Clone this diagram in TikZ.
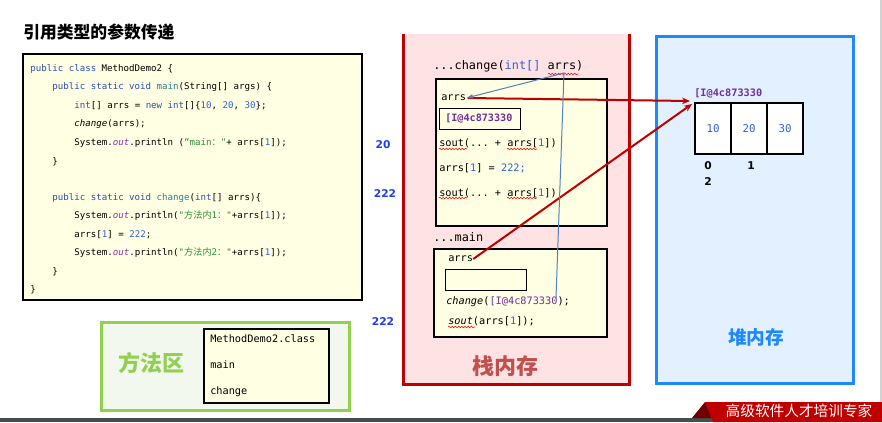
\documentclass[tikz,border=0pt]{standalone}
\usepackage{fontspec}
\setmainfont{DejaVu Sans}
\setmonofont{DejaVu Sans Mono}
\newfontfamily\cjk{Noto Sans CJK SC}
\definecolor{KwBlue}{HTML}{2F4FA8}
\definecolor{FnTeal}{HTML}{2E7D8C}
\definecolor{NumBlue}{HTML}{2D62DC}
\definecolor{OutPurple}{HTML}{8E2FA8}
\definecolor{StrGreen}{HTML}{2E8B3A}
\definecolor{AddrPurple}{HTML}{7030A0}
\definecolor{StackRed}{HTML}{C00000}
\definecolor{BannerDark}{HTML}{700000}
\definecolor{StackFill}{HTML}{FFE3E4}
\definecolor{StackText}{HTML}{C0504D}
\definecolor{HeapBlue}{HTML}{1E88FF}
\definecolor{HeapFill}{HTML}{E3F0FF}
\definecolor{AreaGreen}{HTML}{92D050}
\definecolor{AreaFill}{HTML}{F3F8EE}
\definecolor{NoteYellow}{HTML}{FFFFE3}
\definecolor{OutBlue}{HTML}{1F3CF0}
\definecolor{BarGray}{HTML}{454D4D}
\definecolor{LinkBlue}{HTML}{4F81BD}
\usetikzlibrary{positioning,arrows.meta,decorations.pathmorphing}
\newcommand{\kw}[1]{\textcolor{KwBlue}{#1}}
\newcommand{\fn}[1]{\textcolor{FnTeal}{#1}}
\newcommand{\nm}[1]{\textcolor{NumBlue}{#1}}
\newcommand{\outf}[1]{\textcolor{OutPurple}{\itshape #1}}
\newcommand{\strg}[1]{\textcolor{StrGreen}{#1}}
\tikzset{
  codeline/.style={anchor=west, inner sep=0pt, font=\ttfamily\fontsize{6.85}{8}\selectfont},
  stackline/.style={anchor=west, inner sep=0pt, font=\ttfamily\fontsize{7.7}{9}\selectfont},
  frameline/.style={anchor=west, inner sep=0pt, font=\ttfamily\fontsize{8.9}{10}\selectfont},
  outnum/.style={inner sep=0pt, text=OutBlue, font=\bfseries\fontsize{8}{9}\selectfont},
  addrbox/.style={draw=black, line width=0.8pt, fill=NoteYellow, anchor=north west, inner sep=0pt},
  cell/.style={draw=black, line width=2pt, fill=white, minimum width=27pt, minimum height=38.25pt,
    outer sep=0pt, inner sep=0pt, text=NumBlue, font=\ttfamily\fontsize{8.1}{9}\selectfont},
  idx/.style={inner sep=0pt, font=\bfseries\fontsize{8}{9}\selectfont},
  ref/.style={StackRed, line width=1.5pt, -{Stealth[length=6pt,width=5pt]}},
  squiggle/.style={red, line width=0.4pt, decorate, decoration={snake, amplitude=0.6pt, segment length=2.4pt}}
}
\begin{document}
\begin{tikzpicture}[x=0.75pt, y=-0.75pt]
  \useasboundingbox (0,0) rectangle (882,422);
  \node[anchor=west, inner sep=0pt, font=\cjk\bfseries\fontsize{12.6}{14}\selectfont] (title) at (23,32) {引用类型的参数传递};

  \draw[line width=0.8pt, fill=NoteYellow] (23,54) rectangle (362,300);
  \node[codeline] (code1) at (30,69) {\kw{public} \kw{class} MethodDemo2 \{};
  \node[codeline] (code2) at (52,87) {\kw{public} \kw{static} \kw{void} \fn{main}(String[] args) \{};
  \node[codeline] (code3) at (74,106) {\kw{int}[] arrs = \kw{new} \kw{int}[]\{\nm{10}, \nm{20}, \nm{30}\};};
  \node[codeline] (code4) at (74,124) {\textit{change}(arrs);};
  \node[codeline] (code5) at (74,143) {System.\outf{out}.println (\strg{“main{\cjk ：}"}+ arrs[\nm{1}]);};
  \node[codeline] (code6) at (52,162) {\}};
  \node[codeline] (code7) at (52,198) {\kw{public} \kw{static} \kw{void} \fn{change}(\kw{int}[] arrs)\{};
  \node[codeline] (code8) at (74,216) {System.\outf{out}.println(\strg{"{\cjk 方法内}1{\cjk ：}"}+arrs[\nm{1}]);};
  \node[codeline] (code9) at (74,235) {arrs[\nm{1}] = \nm{222};};
  \node[codeline] (code10) at (74,253) {System.\outf{out}.println(\strg{"{\cjk 方法内}2{\cjk ：}"}+arrs[\nm{1}]);};
  \node[codeline] (code11) at (52,272) {\}};
  \node[codeline] (code12) at (30,290) {\}};

  \node[outnum] (out1) at (383,145) {20};
  \node[outnum] (out2) at (385,194) {222};
  \node[outnum] (out3) at (383,322) {222};

  \fill[StackFill] (403,34) rectangle (630,385);
  \draw[StackRed, line width=2.25pt] (403.5,34) -- (403.5,384.5) -- (629.5,384.5) -- (629.5,34);
  \node[frameline] (chghead) at (433,66) {...change(\textcolor{NumBlue}{int[]} arrs)};
  \draw[line width=0.8pt, fill=NoteYellow] (436,79) rectangle (607,226);
  \node[stackline] (arrsC) at (441,98) {arrs};
  \node[addrbox, minimum width=60.75pt, minimum height=15.75pt] (addrC) at (439,108) {};
  \node[stackline, text=AddrPurple, font=\ttfamily\bfseries\fontsize{7.6}{9}\selectfont] (addrCtext) at (445,118.5) {[I@4c873330};
  \node[stackline] (sout1) at (439,143) {sout(... + arrs[\nm{1}])};
  \node[stackline] (assign) at (439,168) {arrs[\nm{1}] = \nm{222;}};
  \node[stackline] (sout2) at (439,193) {sout(... + arrs[\nm{1}])};
  \node[frameline] (mainhead) at (433,237) {...main};
  \draw[line width=0.8pt, fill=NoteYellow] (434,249) rectangle (607,337);
  \node[stackline] (arrsM) at (448,259) {arrs};
  \node[addrbox, minimum width=60.75pt, minimum height=15.75pt] (addrM) at (445,269) {};
  \node[stackline] (callM) at (446,302) {\textit{change}(\textcolor{AddrPurple}{[I@4c873330});};
  \node[stackline] (soutM) at (448,321) {\textit{sout}(arrs[\nm{1}]);};
  \node[inner sep=0pt, text=StackText, font=\cjk\bfseries\fontsize{16.5}{18}\selectfont] (stacklabel) at (505,366) {栈内存};
  \draw[squiggle] (548,74) -- (578,74);
  \draw[squiggle] (439,149) -- (467,149);
  \draw[squiggle] (507,149) -- (537,149);
  \draw[squiggle] (439,198) -- (467,198);
  \draw[squiggle] (507,198) -- (537,198);
  \draw[squiggle] (448,327) -- (475,327);

  \draw[HeapBlue, line width=2.25pt, fill=HeapFill] (656.5,36.5) rectangle (853.5,383.5);
  \node[anchor=west, inner sep=0pt, text=AddrPurple, font=\ttfamily\bfseries\fontsize{7.7}{9}\selectfont] (addrH) at (694,93) {[I@4c873330};
  \node[cell] (cell0) at (713,128.5) {10};
  \node[cell, right=0pt of cell0] (cell1) {20};
  \node[cell, right=0pt of cell1] (cell2) {30};
  \node[idx] (idx0) at (708,166) {0};
  \node[idx] (idx1) at (751,166) {1};
  \node[idx] (idx2) at (708,182) {2};
  \node[inner sep=0pt, text=HeapBlue, font=\cjk\bfseries\fontsize{14}{16}\selectfont] (heaplabel) at (756,337) {堆内存};

  \draw[AreaGreen, line width=2.25pt, fill=AreaFill] (101,322) rectangle (349,410);
  \node[inner sep=0pt, text=AreaGreen, font=\cjk\bfseries\fontsize{16.5}{18}\selectfont] (arealabel) at (151,363) {方法区};
  \draw[line width=0.8pt, fill=NoteYellow] (204,329) rectangle (329,403);
  \node[stackline] (cls) at (210,339) {MethodDemo2.class};
  \node[stackline] (clsmain) at (210,365) {main};
  \node[stackline] (clschange) at (210,392) {change};

  \coordinate (tipC) at (690,101);
  \coordinate (tipM) at (692,104);
  \coordinate (callref) at (556,298);
  \coordinate (paramref) at (564,73);
  \draw[ref] (arrsC.east) ++(1pt,0) -- (tipC);
  \draw[ref] (arrsM.east) -- (tipM);
  \draw[LinkBlue, line width=0.75pt, -{Latex[length=5pt,width=3.5pt]}] (callref) -- (paramref) -- (arrsC.east);

  \fill[BarGray] (0,418) rectangle (882,422);
  \fill[BannerDark] (692,418) -- (705,402) -- (713,418) -- cycle;
  \fill[StackRed] (705,402) -- (882,402) -- (882,422) -- (713,422) -- cycle;
  \node[inner sep=0pt, text=white, font=\cjk\fontsize{11}{12}\selectfont] (banner) at (799,411) {高级软件人才培训专家};
  \fill[gray!35] (880,0) rectangle (882,402);
\end{tikzpicture}
\end{document}
